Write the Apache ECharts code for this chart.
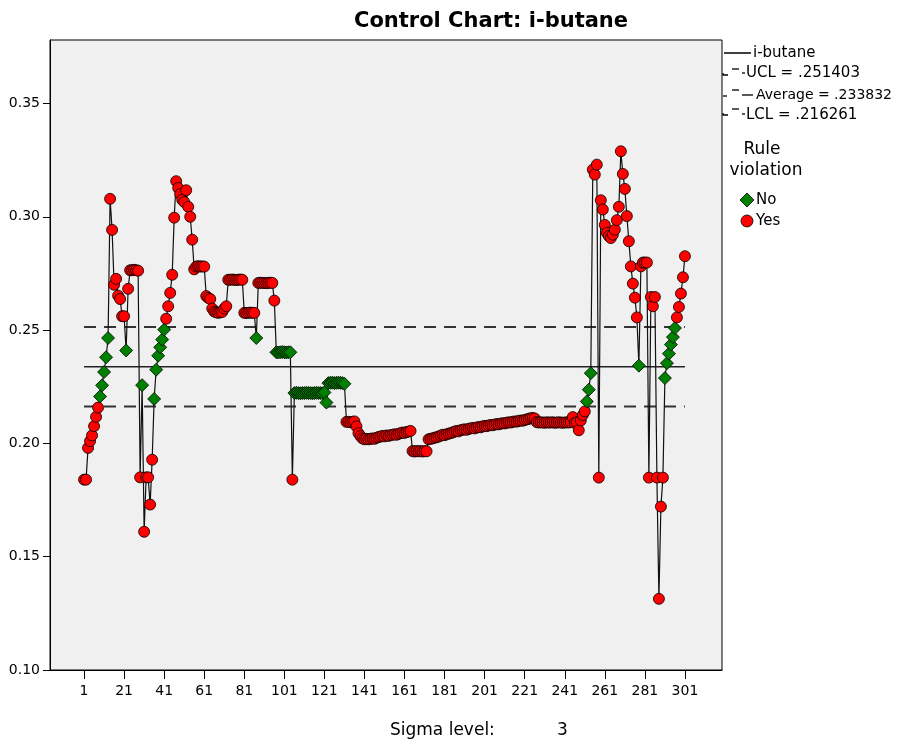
<!DOCTYPE html>
<html>
<head>
<meta charset="utf-8">
<script src="https://cdn.jsdelivr.net/npm/echarts@6/dist/echarts.min.js"></script>
<style>
  html, body { margin: 0; padding: 0; background: #ffffff; }
  #chart { width: 905px; height: 744px; }
</style>
</head>
<body>
<div id="chart"></div>
<script>
// Sample numbers shown on the horizontal axis
const sampleTicks = [1, 21, 41, 61, 81, 101, 121, 141, 161, 181, 201, 221, 241, 261, 281, 301];
// Values labelled on the vertical axis
const valueTicks = [0.10, 0.15, 0.20, 0.25, 0.30, 0.35];

// i-butane measurements, samples 1..301
const ibutane = [
  0.1840, 0.1840, 0.1980, 0.2010, 0.2035, 0.2076, 0.2117, 0.2158, 0.2207, 0.2256,
  0.2315, 0.2380, 0.2465, 0.3079, 0.2942, 0.2700, 0.2726, 0.2652, 0.2637, 0.2561,
  0.2561, 0.2410, 0.2682, 0.2764, 0.2764, 0.2766, 0.2764, 0.2762, 0.1850, 0.2257,
  0.1610, 0.1850, 0.1850, 0.1730, 0.1928, 0.2196, 0.2325, 0.2387, 0.2424, 0.2458,
  0.2502, 0.2550, 0.2605, 0.2664, 0.2744, 0.2996, 0.3157, 0.3127, 0.3100, 0.3075,
  0.3065, 0.3117, 0.3044, 0.3000, 0.2899, 0.2768, 0.2780, 0.2782, 0.2780, 0.2781,
  0.2780, 0.2650, 0.2642, 0.2637, 0.2595, 0.2582, 0.2578, 0.2576, 0.2578, 0.2580,
  0.2595, 0.2605, 0.2722, 0.2722, 0.2723, 0.2722, 0.2721, 0.2722, 0.2723, 0.2722,
  0.2576, 0.2575, 0.2576, 0.2577, 0.2576, 0.2576, 0.2465, 0.2708, 0.2709, 0.2708,
  0.2708, 0.2707, 0.2708, 0.2709, 0.2708, 0.2630, 0.2402, 0.2401, 0.2402, 0.2403,
  0.2402, 0.2401, 0.2402, 0.2402, 0.1840, 0.2222, 0.2223, 0.2222, 0.2221, 0.2222,
  0.2222, 0.2223, 0.2222, 0.2222, 0.2221, 0.2222, 0.2223, 0.2222, 0.2222, 0.2221,
  0.2225, 0.2180, 0.2266, 0.2267, 0.2268, 0.2266, 0.2267, 0.2268, 0.2267, 0.2266,
  0.2263, 0.2095, 0.2095, 0.2093, 0.2095, 0.2097, 0.2075, 0.2045, 0.2032, 0.2022,
  0.2018, 0.2020, 0.2018, 0.2020, 0.2022, 0.2020, 0.2025, 0.2028, 0.2030, 0.2033,
  0.2031, 0.2035, 0.2033, 0.2036, 0.2038, 0.2040, 0.2038, 0.2042, 0.2045, 0.2048,
  0.2046, 0.2050, 0.2052, 0.2055, 0.1966, 0.1964, 0.1966, 0.1965, 0.1966, 0.1964,
  0.1966, 0.1965, 0.2018, 0.2020, 0.2022, 0.2025, 0.2027, 0.2030, 0.2034, 0.2038,
  0.2036, 0.2040, 0.2043, 0.2045, 0.2048, 0.2052, 0.2055, 0.2053, 0.2058, 0.2060,
  0.2062, 0.2060, 0.2064, 0.2066, 0.2068, 0.2066, 0.2070, 0.2072, 0.2071, 0.2075,
  0.2077, 0.2076, 0.2079, 0.2081, 0.2080, 0.2083, 0.2085, 0.2084, 0.2087, 0.2089,
  0.2088, 0.2091, 0.2093, 0.2092, 0.2095, 0.2097, 0.2096, 0.2099, 0.2101, 0.2100,
  0.2103, 0.2106, 0.2108, 0.2111, 0.2112, 0.2110, 0.2094, 0.2092, 0.2093, 0.2092,
  0.2091, 0.2093, 0.2092, 0.2092, 0.2093, 0.2091, 0.2092, 0.2093, 0.2092, 0.2091,
  0.2092, 0.2093, 0.2092, 0.2094, 0.2116, 0.2090, 0.2093, 0.2058, 0.2101, 0.2125,
  0.2141, 0.2185, 0.2237, 0.2310, 0.3208, 0.3186, 0.3230, 0.1849, 0.3073, 0.3032,
  0.2964, 0.2929, 0.2915, 0.2906, 0.2921, 0.2943, 0.2985, 0.3044, 0.3289, 0.3189,
  0.3123, 0.3003, 0.2892, 0.2781, 0.2705, 0.2643, 0.2556, 0.2343, 0.2781, 0.2798,
  0.2798, 0.2798, 0.1849, 0.2646, 0.2605, 0.2646, 0.1849, 0.1314, 0.1721, 0.1849,
  0.2288, 0.2354, 0.2396, 0.2436, 0.2469, 0.2509, 0.2556, 0.2602, 0.2661, 0.2733,
  0.2826
];

// Control limits (3 sigma)
const UCL = 0.251403;
const AVERAGE = 0.233832;
const LCL = 0.216261;
const SIGMA_LEVEL = 3;

const FONT = 'DejaVu Sans';
const firstSample = 1;
const lastSample = ibutane.length;

// A point violates the rule when it falls outside the control limits
const points = ibutane.map((v, i) => {
  const out = v > UCL || v < LCL;
  return {
    value: [i + 1, v],
    symbol: out ? 'circle' : 'diamond',
    symbolSize: out ? 11 : 13,
    itemStyle: { color: out ? '#ff0000' : '#008000' }
  };
});

function limitSeries(name, value, type, width, color) {
  return {
    name: name,
    type: 'line',
    data: [[firstSample, value], [lastSample, value]],
    symbol: 'none',
    silent: true,
    z: 1,
    lineStyle: { color: color, width: width, type: type }
  };
}

const chart = echarts.init(document.getElementById('chart'), null, { renderer: 'canvas' });

const legendText = { fontFamily: FONT, fontSize: 15, fill: '#000' };

chart.setOption({
  animation: false,
  backgroundColor: '#ffffff',
  title: {
    text: 'Control Chart: i-butane',
    left: 486,
    top: 6,
    textAlign: 'center',
    textStyle: { fontFamily: FONT, fontSize: 21, fontWeight: 'bold', color: '#000' }
  },
  grid: {
    left: 50, top: 40, width: 672, height: 630,
    show: true,
    backgroundColor: '#f0f0f0',
    borderColor: '#000',
    borderWidth: 1
  },
  xAxis: {
    type: 'value',
    min: -16,
    max: 319.5,
    axisLine: { show: true, onZero: false, lineStyle: { color: '#000', width: 1 } },
    axisTick: { show: true, length: 9, customValues: sampleTicks, lineStyle: { color: '#000' } },
    axisLabel: {
      customValues: sampleTicks,
      fontFamily: FONT, fontSize: 14, color: '#000', margin: 14
    },
    splitLine: { show: false }
  },
  yAxis: {
    type: 'value',
    min: 0.10,
    max: 0.378,
    axisLine: { show: true, onZero: false, lineStyle: { color: '#000', width: 1 } },
    axisTick: { show: true, length: 7, customValues: valueTicks, lineStyle: { color: '#000' } },
    axisLabel: {
      customValues: valueTicks,
      fontFamily: FONT, fontSize: 14, color: '#000', margin: 10,
      formatter: v => v.toFixed(2)
    },
    splitLine: { show: false }
  },
  series: [
    limitSeries('UCL', UCL, [12, 8], 2, '#333'),
    limitSeries('Average', AVERAGE, 'solid', 1.5, '#222'),
    limitSeries('LCL', LCL, [12, 8], 2, '#333'),
    {
      name: 'i-butane',
      type: 'line',
      data: points,
      showAllSymbol: true,
      z: 3,
      lineStyle: { color: '#111', width: 1.2 },
      itemStyle: { borderColor: '#000', borderWidth: 0.8 }
    }
  ],
  graphic: [
    // legend: series and control lines
    { type: 'line', shape: { x1: 724, y1: 53, x2: 751, y2: 53 }, style: { stroke: '#000', lineWidth: 1.5 } },
    { type: 'text', x: 753, y: 53, style: Object.assign({ text: 'i-butane', verticalAlign: 'middle' }, legendText) },

    { type: 'polyline', shape: { points: [[723, 73], [723, 75], [728, 75]] }, style: { stroke: '#000', lineWidth: 1.3, fill: null } },
    { type: 'line', shape: { x1: 732, y1: 69, x2: 739, y2: 69 }, style: { stroke: '#000', lineWidth: 1.3 } },
    { type: 'line', shape: { x1: 742, y1: 73, x2: 745, y2: 73 }, style: { stroke: '#000', lineWidth: 1.3 } },
    { type: 'text', x: 746, y: 73, style: Object.assign({ text: 'UCL = .251403', verticalAlign: 'middle' }, legendText) },

    { type: 'line', shape: { x1: 723, y1: 96, x2: 727, y2: 96 }, style: { stroke: '#000', lineWidth: 1.3 } },
    { type: 'line', shape: { x1: 732, y1: 90, x2: 739, y2: 90 }, style: { stroke: '#000', lineWidth: 1.3 } },
    { type: 'line', shape: { x1: 742, y1: 95, x2: 753, y2: 95 }, style: { stroke: '#000', lineWidth: 1.3 } },
    { type: 'text', x: 756, y: 95, style: Object.assign({}, legendText, { text: 'Average = .233832', verticalAlign: 'middle', fontSize: 14 }) },

    { type: 'polyline', shape: { points: [[723, 113], [723, 115], [728, 115]] }, style: { stroke: '#000', lineWidth: 1.3, fill: null } },
    { type: 'line', shape: { x1: 732, y1: 109, x2: 739, y2: 109 }, style: { stroke: '#000', lineWidth: 1.3 } },
    { type: 'line', shape: { x1: 742, y1: 114, x2: 745, y2: 114 }, style: { stroke: '#000', lineWidth: 1.3 } },
    { type: 'text', x: 746, y: 115, style: Object.assign({ text: 'LCL = .216261', verticalAlign: 'middle' }, legendText) },

    // legend: rule violation markers
    { type: 'text', x: 762, y: 150, style: { text: 'Rule', align: 'center', verticalAlign: 'middle', fontFamily: FONT, fontSize: 17, fill: '#000' } },
    { type: 'text', x: 766, y: 171, style: { text: 'violation', align: 'center', verticalAlign: 'middle', fontFamily: FONT, fontSize: 17, fill: '#000' } },
    { type: 'polygon', shape: { points: [[747, 193], [754, 200], [747, 207], [740, 200]] }, style: { fill: '#008000', stroke: '#000', lineWidth: 0.8 } },
    { type: 'text', x: 756, y: 200, style: Object.assign({ text: 'No', verticalAlign: 'middle' }, legendText) },
    { type: 'circle', shape: { cx: 747, cy: 221, r: 6 }, style: { fill: '#ff0000', stroke: '#000', lineWidth: 0.8 } },
    { type: 'text', x: 756, y: 221, style: Object.assign({ text: 'Yes', verticalAlign: 'middle' }, legendText) },

    // footer
    { type: 'text', x: 390, y: 731, style: { text: 'Sigma level:', verticalAlign: 'middle', fontFamily: FONT, fontSize: 17, fill: '#000' } },
    { type: 'text', x: 557, y: 731, style: { text: String(SIGMA_LEVEL), verticalAlign: 'middle', fontFamily: FONT, fontSize: 17, fill: '#000' } }
  ]
});
</script>
</body>
</html>
